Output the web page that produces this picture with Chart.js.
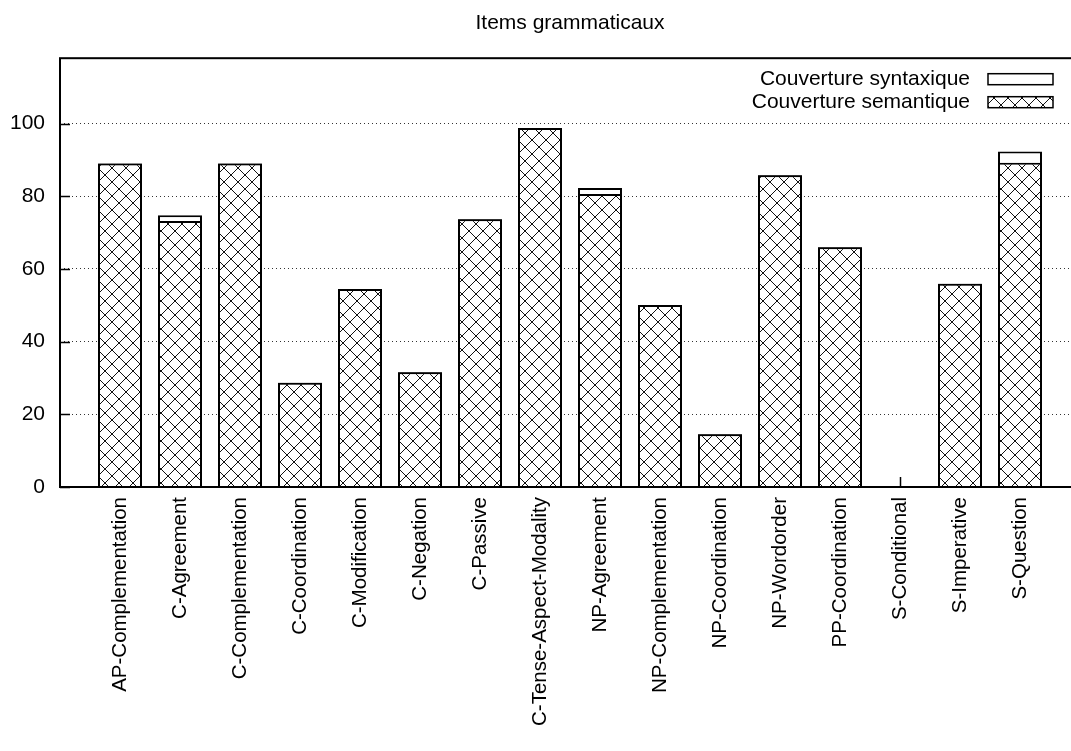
<!DOCTYPE html>
<html>
<head>
<meta charset="utf-8">
<title>Items grammaticaux</title>
<script src="https://cdn.jsdelivr.net/npm/chart.js@4/dist/chart.umd.min.js"></script>
<style>
    html, body { margin: 0; padding: 0; background: #fff; overflow: hidden; }
    canvas { display: block; }
</style>
</head>
<body>
<canvas id="coverageChart" width="1081" height="751"></canvas>
<script>
// Chart data
const categories = [
    'AP-Complementation', 'C-Agreement', 'C-Complementation', 'C-Coordination',
    'C-Modification', 'C-Negation', 'C-Passive', 'C-Tense-Aspect-Modality',
    'NP-Agreement', 'NP-Complementation', 'NP-Coordination', 'NP-Wordorder',
    'PP-Coordination', 'S-Conditional', 'S-Imperative', 'S-Question'
];
const couvertureSyntaxique = [89, 74.8, 89, 28.7, 54.5, 31.6, 73.7, 98.8, 82.3, 50.1, 14.5, 85.8, 66, 0, 55.9, 92.3];
const couvertureSemantique = [89, 73.2, 89, 28.7, 54.5, 31.6, 73.7, 98.8, 80.6, 50.1, 14.5, 85.8, 66, 0, 55.9, 89.2];
const yTickValues = [0, 20, 40, 60, 80, 100];

const FONT = '"Liberation Sans", Arial, sans-serif';

document.addEventListener('DOMContentLoaded', function() {
    initializeChart();
});

// Crosshatch fill like gnuplot's pattern
function makeHatch() {
    const size = 14;
    const c = document.createElement('canvas');
    c.width = size;
    c.height = size;
    const g = c.getContext('2d');
    g.fillStyle = '#fff';
    g.fillRect(0, 0, size, size);
    g.strokeStyle = '#111';
    g.lineWidth = 1;
    g.beginPath();
    g.moveTo(-1, -1); g.lineTo(size + 1, size + 1);
    g.moveTo(-1, size + 1); g.lineTo(size + 1, -1);
    g.stroke();
    return g.createPattern(c, 'repeat');
}

// inward tick marks, drawn under the bars
const tickMarks = {
    id: 'tickMarks',
    beforeDatasetsDraw(chart) {
        const ctx = chart.ctx;
        const area = chart.chartArea;
        const x = chart.scales.x, y = chart.scales.y;
        ctx.save();
        ctx.strokeStyle = '#000';
        ctx.lineWidth = 1.5;
        ctx.beginPath();
        categories.forEach((c, i) => {
            const px = Math.round(x.getPixelForValue(i)) + 0.5;
            ctx.moveTo(px, area.bottom);
            ctx.lineTo(px, area.bottom - 10);
        });
        yTickValues.forEach(v => {
            const py = Math.round(y.getPixelForValue(v)) + 0.5;
            ctx.moveTo(area.left, py);
            ctx.lineTo(area.left + 10, py);
        });
        ctx.stroke();
        ctx.restore();
    }
};

// frame + gnuplot style key (text on the left, sample on the right)
const frameAndKey = {
    id: 'frameAndKey',
    afterDatasetsDraw(chart) {
        const ctx = chart.ctx;
        const area = chart.chartArea;
        ctx.save();
        ctx.strokeStyle = '#000';
        ctx.lineWidth = 2;
        ctx.strokeRect(area.left, area.top, area.right - area.left, area.bottom - area.top);

        ctx.font = '21px ' + FONT;
        ctx.textAlign = 'right';
        ctx.textBaseline = 'middle';
        ctx.fillStyle = '#000';
        ctx.lineWidth = 1.5;
        const keys = [chart.data.datasets[0], chart.data.datasets[1]];
        keys.forEach((ds, i) => {
            const cy = area.top + 21 + i * 23;
            ctx.fillText(ds.label, area.right - 110, cy);
            ctx.fillStyle = ds.backgroundColor;
            ctx.fillRect(area.right - 92, cy - 5.5, 65, 11);
            ctx.strokeRect(area.right - 92, cy - 5.5, 65, 11);
            ctx.fillStyle = '#000';
        });
        ctx.restore();
    }
};

function initializeChart() {
    const ctx = document.getElementById('coverageChart');
    const hatch = makeHatch();

    new Chart(ctx, {
        type: 'bar',
        data: {
            datasets: [{
                label: 'Couverture syntaxique',
                data: couvertureSyntaxique.map((v, i) => ({ x: i, y: v })),
                backgroundColor: '#fff',
                borderColor: '#000',
                borderWidth: 2,
                order: 1
            }, {
                label: 'Couverture semantique',
                data: couvertureSemantique.map((v, i) => ({ x: i, y: v })),
                backgroundColor: hatch,
                borderColor: '#000',
                borderWidth: 2,
                order: 0
            }]
        },
        options: {
            responsive: false,
            animation: false,
            grouped: false,
            barPercentage: 0.733,
            categoryPercentage: 1,
            layout: { padding: { left: 0, right: 1, top: 0, bottom: 0 } },
            plugins: {
                legend: { display: false },
                tooltip: { enabled: false },
                title: {
                    display: true,
                    text: 'Items grammaticaux',
                    fullSize: false,
                    color: '#000',
                    font: { family: FONT, size: 21, weight: 'normal', lineHeight: 1.2 },
                    padding: { top: 11, bottom: 22 }
                }
            },
            scales: {
                x: {
                    type: 'linear',
                    min: -1,
                    max: 16,
                    offset: false,
                    grid: { display: false, drawTicks: false },
                    border: { display: false },
                    afterBuildTicks: scale => {
                        scale.ticks = categories.map((c, i) => ({ value: i }));
                    },
                    afterFit: scale => { scale.height = 264; },
                    ticks: {
                        autoSkip: false,
                        minRotation: 90,
                        maxRotation: 90,
                        padding: 10,
                        color: '#000',
                        font: { family: FONT, size: 20.5 },
                        callback: v => categories[v] || ''
                    }
                },
                y: {
                    min: 0,
                    max: 118,
                    grid: { color: '#333', lineWidth: 1, drawTicks: false },
                    border: { display: false, dash: [1, 3] },
                    afterBuildTicks: scale => {
                        scale.ticks = yTickValues.map(v => ({ value: v }));
                    },
                    afterFit: scale => { scale.width = 60; },
                    ticks: {
                        padding: 15,
                        color: '#000',
                        font: { family: FONT, size: 21 }
                    }
                }
            }
        },
        plugins: [tickMarks, frameAndKey]
    });
}
</script>
</body>
</html>
